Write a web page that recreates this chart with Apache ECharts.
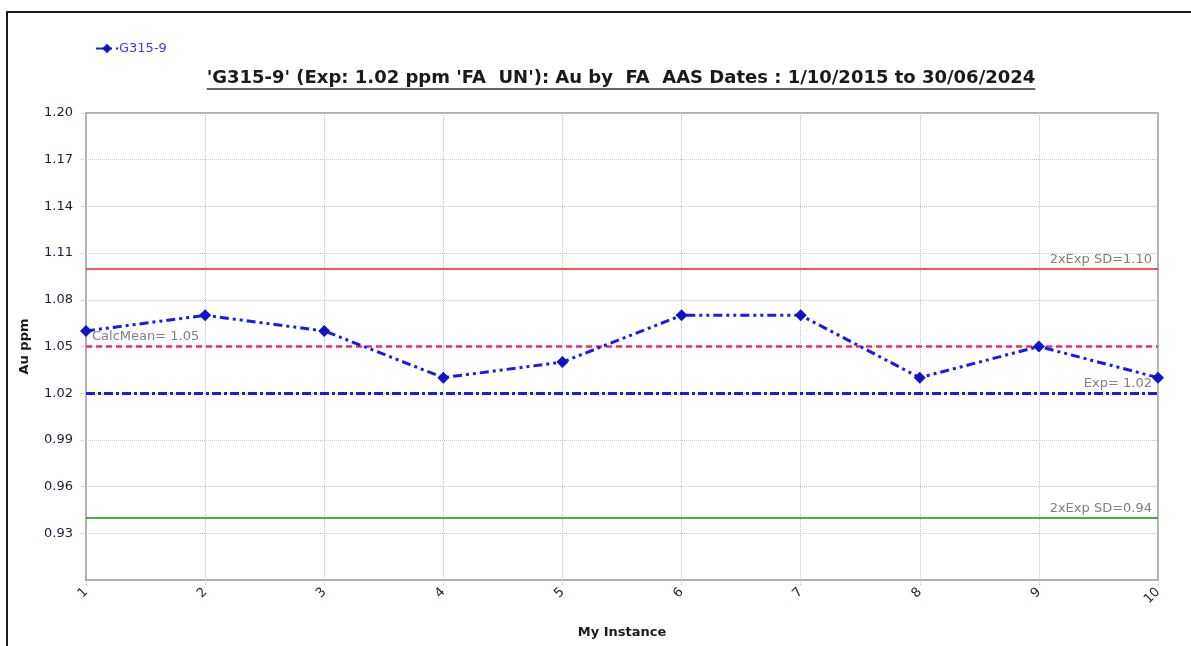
<!DOCTYPE html>
<html>
<head>
<meta charset="utf-8">
<script src="https://cdn.jsdelivr.net/npm/echarts@6/dist/echarts.min.js"></script>
<style>
  html, body { margin: 0; padding: 0; background: #fff; overflow: hidden; }
  #frame { position: absolute; left: 6px; top: 11px; width: 1400px; height: 800px; border: 2px solid #1a1a1a; box-sizing: border-box; }
  #chart { position: absolute; left: 0; top: 0; width: 1191px; height: 646px; }
</style>
</head>
<body>
<div id="frame"></div>
<div id="chart"></div>
<script>
// ---- data ----
const categories = ['1', '2', '3', '4', '5', '6', '7', '8', '9', '10'];
const seriesName = 'G315-9';
const auValues = [1.06, 1.07, 1.06, 1.03, 1.04, 1.07, 1.07, 1.03, 1.05, 1.03];
const upperLimit = 1.10;
const lowerLimit = 0.94;
const expValue = 1.02;
const calcMean = 1.051;
const titleText = "'G315-9' (Exp: 1.02 ppm 'FA  UN'): Au by  FA  AAS Dates : 1/10/2015 to 30/06/2024";
const yAxisName = 'Au ppm';
const xAxisName = 'My Instance';
const yMin = 0.90, yMax = 1.20, yStep = 0.03;

const FONT = "'DejaVu Sans', sans-serif";
const titleFontSize = 18;

// measure title width for underline
const cv = document.createElement('canvas').getContext('2d');
cv.font = 'bold ' + titleFontSize + 'px ' + FONT;
const tw = cv.measureText(titleText).width;
const titleCenter = 621;

const chart = echarts.init(document.getElementById('chart'), null, { renderer: 'canvas' });
const gridColor = '#b0b0b0';
const labelColor = '#1c1c3c';
const mlLabelColor = '#808080';

chart.setOption({
  animation: false,
  textStyle: { fontFamily: FONT },
  graphic: [{
    type: 'text',
    x: titleCenter, y: 69,
    style: {
      text: titleText, fill: '#1a1a1a',
      font: 'bold ' + titleFontSize + 'px ' + FONT,
      textAlign: 'center', textVerticalAlign: 'top'
    }
  }, {
    type: 'line',
    shape: { x1: titleCenter - tw / 2, y1: 89, x2: titleCenter + tw / 2, y2: 89 },
    style: { stroke: '#333', lineWidth: 1.5 }
  }],
  legend: {
    left: 90, top: 37,
    itemWidth: 22, itemHeight: 12, itemGap: 2,
    textStyle: { color: '#3a3aff', fontSize: 13, fontFamily: FONT, padding: [0, 0, 0, -4] },
    data: [seriesName]
  },
  grid: {
    left: 86, right: 33, top: 113, bottom: 66,
    show: true, borderColor: gridColor, borderWidth: 2, backgroundColor: '#fff'
  },
  xAxis: {
    type: 'category',
    data: categories,
    boundaryGap: false,
    name: xAxisName,
    nameLocation: 'middle',
    nameGap: 46,
    nameTextStyle: { fontWeight: 'bold', fontSize: 13, color: '#1a1a1a' },
    axisLine: { lineStyle: { color: gridColor, width: 2 } },
    axisTick: { show: true, length: 6, lineStyle: { color: '#bbb', type: 'dotted' } },
    axisLabel: { rotate: 45, color: labelColor, fontSize: 13, margin: 10 },
    splitLine: { show: true, lineStyle: { color: '#c4c4c4', type: 'dotted', width: 1 } }
  },
  yAxis: {
    type: 'value',
    min: yMin, max: yMax, interval: yStep,
    name: yAxisName,
    nameLocation: 'middle',
    nameGap: 55,
    nameRotate: 90,
    nameTextStyle: { fontWeight: 'bold', fontSize: 13, color: '#1a1a1a' },
    axisLine: { show: true, lineStyle: { color: gridColor, width: 2 } },
    axisTick: { show: true, length: 6, lineStyle: { color: '#bbb', type: 'dotted' } },
    axisLabel: {
      color: labelColor, fontSize: 13, margin: 13, showMinLabel: false,
      formatter: v => v.toFixed(2)
    },
    splitLine: { show: true, lineStyle: { color: '#c4c4c4', type: 'dotted', width: 1 } }
  },
  series: [{
    name: seriesName,
    type: 'line',
    data: auValues,
    symbol: 'diamond',
    symbolSize: 12,
    z: 5,
    itemStyle: { color: '#1212c8' },
    lineStyle: { color: '#1a1aee', width: 3, type: [9, 4, 3, 4, 3, 4] },
    markLine: {
      silent: true,
      symbol: 'none',
      z: 3,
      label: { color: mlLabelColor, fontSize: 13, fontFamily: FONT },
      data: [
        { yAxis: upperLimit, lineStyle: { color: '#ee2222', width: 1.5, type: 'solid' },
          label: { position: 'insideEndTop', formatter: '2xExp SD=' + upperLimit.toFixed(2), distance: [6, 3] } },
        { yAxis: calcMean, lineStyle: { color: '#e0307a', width: 2.5, type: [6, 4] },
          label: { position: 'insideStartTop', formatter: 'CalcMean= ' + calcMean.toFixed(2), distance: [6, 3] } },
        { yAxis: expValue, lineStyle: { color: '#1a1aee', width: 3, type: [9, 3, 3, 3] },
          label: { position: 'insideEndTop', formatter: 'Exp= ' + expValue.toFixed(2), distance: [6, 3] } },
        { yAxis: lowerLimit, lineStyle: { color: '#1a8a1a', width: 1.5, type: 'solid' },
          label: { position: 'insideEndTop', formatter: '2xExp SD=' + lowerLimit.toFixed(2), distance: [6, 3] } }
      ]
    }
  }]
});
</script>
</body>
</html>
